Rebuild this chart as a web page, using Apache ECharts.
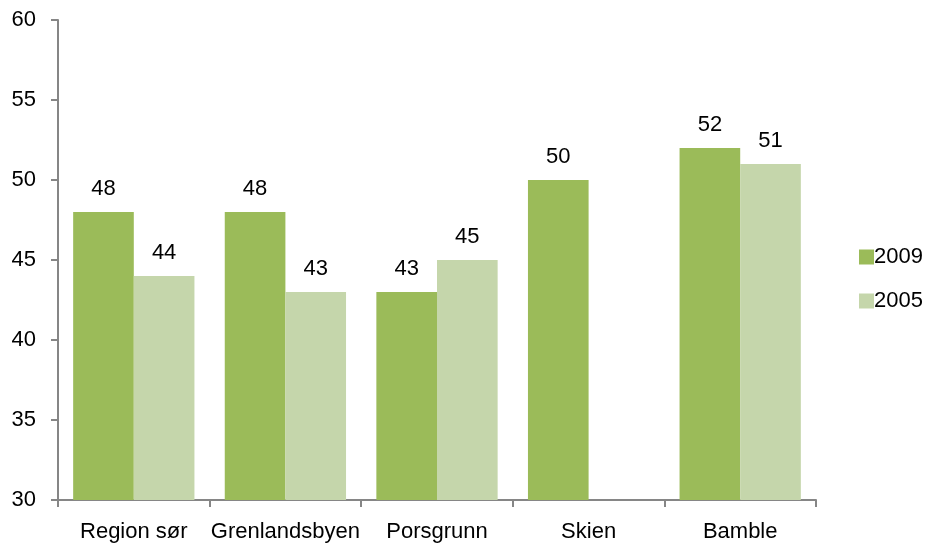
<!DOCTYPE html>
<html>
<head>
<meta charset="utf-8">
<script src="https://cdn.jsdelivr.net/npm/echarts@6/dist/echarts.min.js"></script>
<style>
  html, body { margin: 0; padding: 0; background: #fff; }
  #chart { width: 926px; height: 549px; }
</style>
</head>
<body>
<div id="chart"></div>
<script>
const categories = ["Region sør", "Grenlandsbyen", "Porsgrunn", "Skien", "Bamble"];
const values2009 = [48, 48, 43, 50, 52];
const values2005 = [44, 43, 45, null, 51];
const yTicks = [30, 35, 40, 45, 50, 55, 60];

const font = "'Liberation Sans Narrow', 'Arial Narrow', 'Liberation Sans', sans-serif";
const axisColor = "#868686";

const mychart = echarts.init(document.getElementById("chart"));
const option = {
  animation: false,
  textStyle: { fontFamily: font },
  grid: {
    left: 58,
    right: 110,
    top: 20,
    bottom: 49,
    containLabel: false
  },
  legend: {
    orient: "vertical",
    left: 854,
    top: 241,
    itemWidth: 15,
    itemHeight: 15,
    itemGap: 22,
    icon: "rect",
    textStyle: { fontFamily: font, fontSize: 22, color: "#000", padding: [0, 0, 0, -5] },
    data: ["2009", "2005"]
  },
  xAxis: {
    type: "category",
    data: categories,
    axisLine: { lineStyle: { color: axisColor, width: 2 } },
    axisTick: { show: true, length: 7, lineStyle: { color: axisColor, width: 2 } },
    axisLabel: { fontFamily: font, fontSize: 22, color: "#000", margin: 21, interval: 0 }
  },
  yAxis: {
    type: "value",
    min: yTicks[0],
    max: yTicks[yTicks.length - 1],
    interval: 5,
    axisLine: { show: true, lineStyle: { color: axisColor, width: 2 } },
    axisTick: { show: true, length: 7, lineStyle: { color: axisColor, width: 2 } },
    axisLabel: { fontFamily: font, fontSize: 22, color: "#000", margin: 22 },
    splitLine: { show: false }
  },
  series: [
    {
      name: "2009",
      type: "bar",
      data: values2009,
      barGap: "0%",
      barCategoryGap: "20%",
      itemStyle: { color: "#9BBB59" },
      label: { show: true, position: "top", distance: 12, fontFamily: font, fontSize: 22, color: "#000" }
    },
    {
      name: "2005",
      type: "bar",
      data: values2005,
      itemStyle: { color: "#C5D6AB" },
      label: { show: true, position: "top", distance: 12, fontFamily: font, fontSize: 22, color: "#000" }
    }
  ]
};
mychart.setOption(option);
</script>
</body>
</html>
